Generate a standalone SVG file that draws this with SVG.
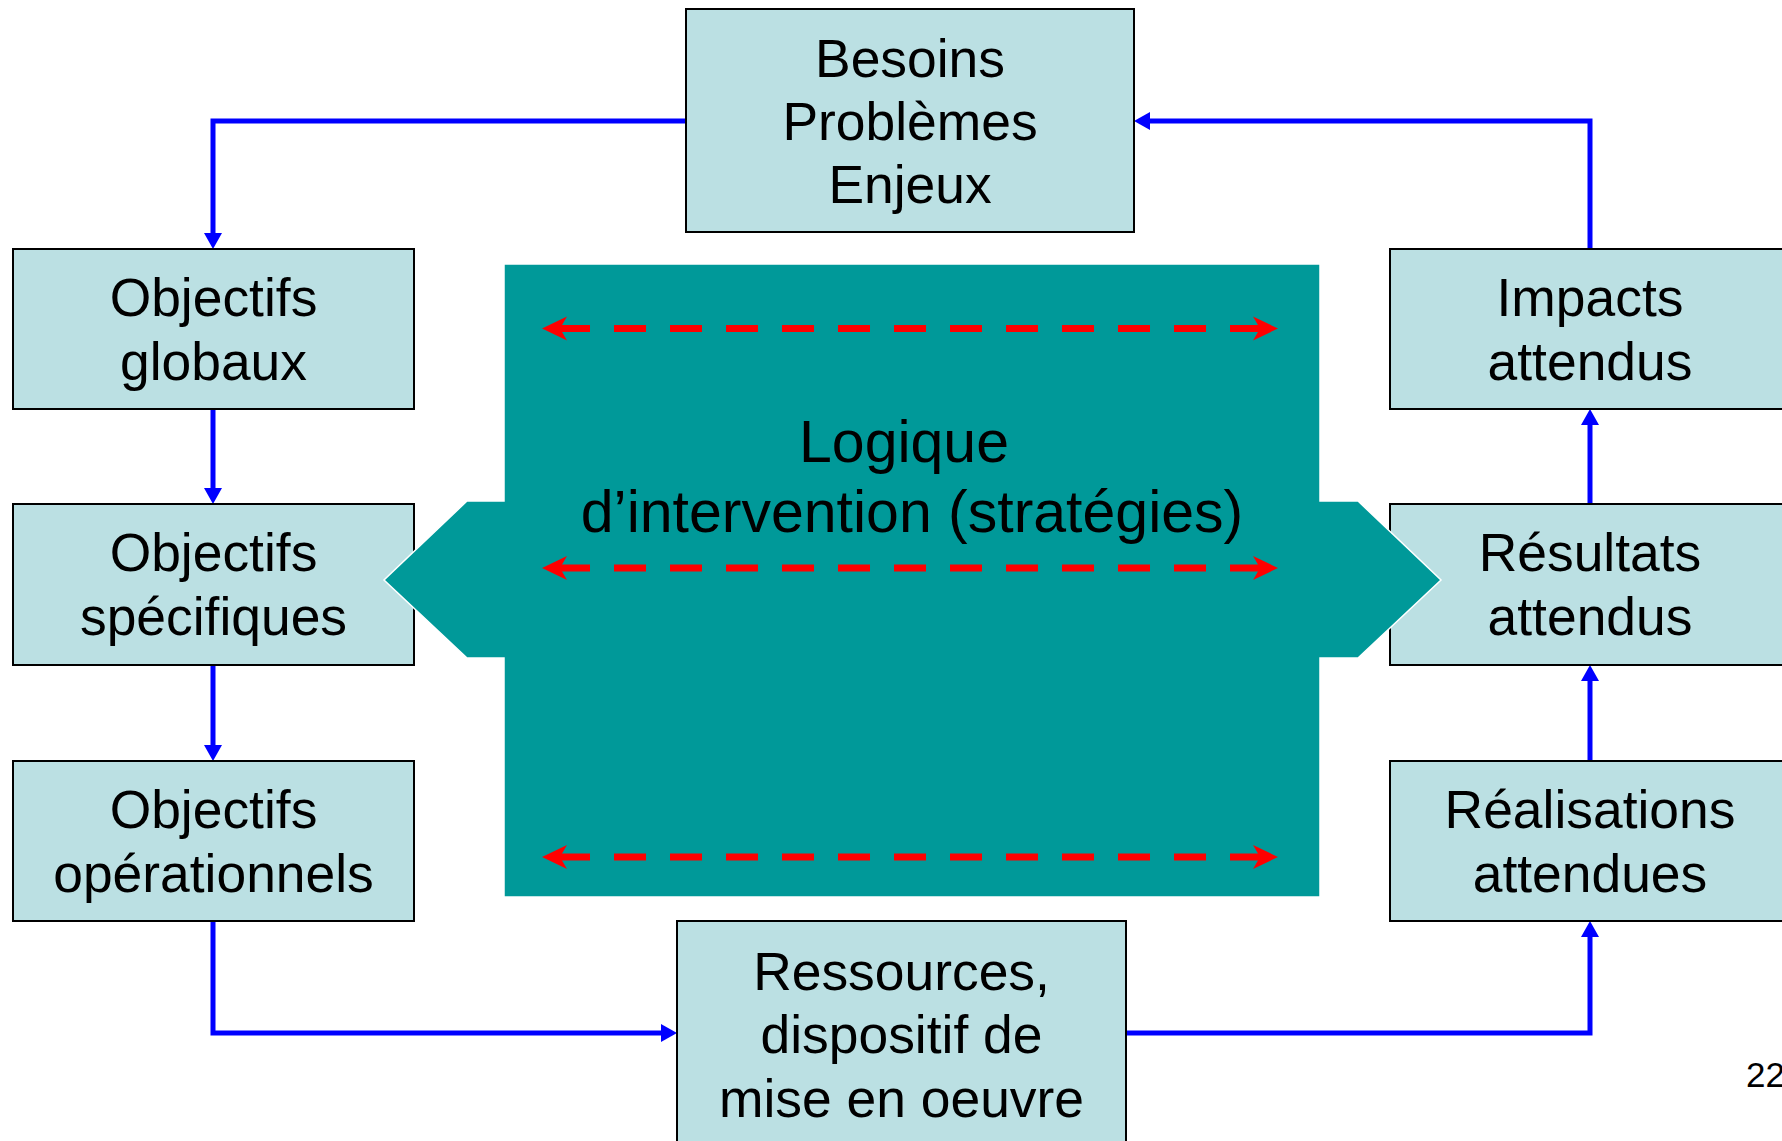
<svg xmlns="http://www.w3.org/2000/svg" width="1782" height="1141" viewBox="0 0 1782 1141">
  <style>
    .box { fill: #BBE0E3; stroke: #000000; stroke-width: 2; }
    .t { font-family: "Liberation Sans", Arial, sans-serif; font-size: 53.4px; fill: #000000; text-anchor: middle; }
    .big { font-size: 59px; }
    .conn { fill: none; stroke: #0000FF; stroke-width: 5; }
    .red { fill: none; stroke: #FF0000; stroke-width: 7; stroke-dasharray: 32 24; }
    .rh { fill: #FF0000; }
  </style>
  <defs>
    <marker id="ah" viewBox="0 0 16 18" refX="0" refY="9" markerWidth="16" markerHeight="18" markerUnits="userSpaceOnUse" orient="auto">
      <path d="M0,0 L16,9 L0,18 z" fill="#0000FF"/>
    </marker>
  </defs>
  <rect width="1782" height="1141" fill="#FFFFFF"/>

  <g id="connectors">
    <path class="conn" d="M686,121 H213 V233" marker-end="url(#ah)"/>
    <path class="conn" d="M213,409 V488" marker-end="url(#ah)"/>
    <path class="conn" d="M213,665 V745" marker-end="url(#ah)"/>
    <path class="conn" d="M213,921 V1033 H661" marker-end="url(#ah)"/>
    <path class="conn" d="M1126,1033 H1590 V937" marker-end="url(#ah)"/>
    <path class="conn" d="M1590,761 V681" marker-end="url(#ah)"/>
    <path class="conn" d="M1590,504 V425" marker-end="url(#ah)"/>
    <path class="conn" d="M1590,249 V121 H1150" marker-end="url(#ah)"/>
  </g>

  <g id="besoins">
    <rect class="box" x="686" y="9" width="448" height="223"/>
    <text class="t" x="910" y="77">Besoins</text>
    <text class="t" x="910" y="140">Problèmes</text>
    <text class="t" x="910" y="203">Enjeux</text>
  </g>
  <g id="objectifs-globaux">
    <rect class="box" x="13" y="249" width="401" height="160"/>
    <text class="t" x="213.5" y="316">Objectifs</text>
    <text class="t" x="213.5" y="380">globaux</text>
  </g>
  <g id="objectifs-specifiques">
    <rect class="box" x="13" y="504" width="401" height="161"/>
    <text class="t" x="213.5" y="571">Objectifs</text>
    <text class="t" x="213.5" y="635">spécifiques</text>
  </g>
  <g id="objectifs-operationnels">
    <rect class="box" x="13" y="761" width="401" height="160"/>
    <text class="t" x="213.5" y="828">Objectifs</text>
    <text class="t" x="213.5" y="892">opérationnels</text>
  </g>
  <g id="impacts">
    <rect class="box" x="1390" y="249" width="400" height="160"/>
    <text class="t" x="1590" y="316">Impacts</text>
    <text class="t" x="1590" y="380">attendus</text>
  </g>
  <g id="resultats">
    <rect class="box" x="1390" y="504" width="400" height="161"/>
    <text class="t" x="1590" y="571">Résultats</text>
    <text class="t" x="1590" y="635">attendus</text>
  </g>
  <g id="realisations">
    <rect class="box" x="1390" y="761" width="400" height="160"/>
    <text class="t" x="1590" y="828">Réalisations</text>
    <text class="t" x="1590" y="892">attendues</text>
  </g>
  <g id="ressources">
    <rect class="box" x="677" y="921" width="449" height="240"/>
    <text class="t" x="901.5" y="990">Ressources,</text>
    <text class="t" x="901.5" y="1053">dispositif de</text>
    <text class="t" x="901.5" y="1117">mise en oeuvre</text>
  </g>

  <g id="logique">
    <polygon points="504,264 1320,264 1320,501 1358,501 1441,580 1358,658 1320,658 1320,897 504,897 504,658 467,658 384,580 467,501 504,501" fill="#009999" stroke="#FFFFFF" stroke-width="1.5"/>
    <path class="red" d="M558,328.5 H1262"/>
    <polygon class="rh" points="542,328.5 567,316.5 560,328.5 567,340.5"/>
    <polygon class="rh" points="1278,328.5 1253,316.5 1260,328.5 1253,340.5"/>
    <path class="red" d="M558,568 H1262"/>
    <polygon class="rh" points="542,568 567,556 560,568 567,580"/>
    <polygon class="rh" points="1278,568 1253,556 1260,568 1253,580"/>
    <path class="red" d="M558,857 H1262"/>
    <polygon class="rh" points="542,857 567,845 560,857 567,869"/>
    <polygon class="rh" points="1278,857 1253,845 1260,857 1253,869"/>
    <text class="t big" x="904" y="462">Logique</text>
    <text class="t big" x="912" y="532">d’intervention (stratégies)</text>
  </g>

  <text class="t" style="font-size:35px; text-anchor:start" x="1746" y="1087">22</text>
</svg>
